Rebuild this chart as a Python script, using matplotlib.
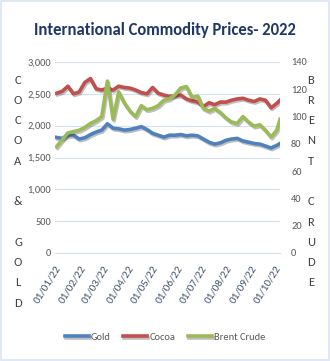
import matplotlib.pyplot as plt
import matplotlib.dates as mdates
import matplotlib.patheffects as pe
import pandas as pd
from matplotlib.ticker import FuncFormatter, MultipleLocator

plt.rcParams['font.family'] = ['Carlito', 'DejaVu Sans']

# weekly closing prices, 2022
weeks = pd.date_range('2022-01-03', periods=40, freq='7D').append(pd.DatetimeIndex(['2022-10-07']))

gold = [1815, 1800, 1845, 1850, 1790, 1810, 1860, 1900, 1930, 2030,
        1960, 1950, 1930, 1940, 1960, 1985, 1940, 1880, 1850, 1820,
        1850, 1850, 1860, 1840, 1850, 1840, 1790, 1740, 1710, 1730,
        1770, 1790, 1800, 1760, 1740, 1720, 1710, 1680, 1650, 1690, 1720]

cocoa = [2510, 2540, 2620, 2500, 2530, 2680, 2740, 2580, 2560, 2590,
         2560, 2620, 2600, 2590, 2560, 2520, 2500, 2600, 2510, 2480,
         2460, 2470, 2480, 2420, 2390, 2370, 2300, 2360, 2330, 2370,
         2370, 2400, 2420, 2430, 2400, 2380, 2420, 2400, 2280, 2350, 2400]

brent = [78, 83, 88, 89, 90, 92, 95, 97, 100, 126,
         98, 118, 110, 104, 100, 108, 105, 106, 108, 112,
         113, 116, 121, 122, 114, 115, 106, 104, 106, 103,
         99, 96, 95, 100, 96, 93, 94, 90, 85, 90, 98]

series_names = ['Gold', 'Cocoa', 'Brent Crude']
colors = ['#4F81BD', '#C0504D', '#9BBB59']
month_ticks = pd.date_range('2022-01-01', '2022-10-01', freq='MS')
left_title = 'COCOA & GOLD'
right_title = 'BRENT CRUDE'

W, H = 330, 361
fig = plt.figure(figsize=(W / 100, H / 100), dpi=100)
fig.patch.set_facecolor('white')
fig.add_artist(plt.Rectangle((0.003, 0.003), 0.994, 0.994, transform=fig.transFigure,
                             fill=False, edgecolor='#DAE3F3', lw=1.2))

ax = fig.add_axes([55 / W, 1 - 253 / H, 225 / W, 191 / H])
ax2 = ax.twinx()

shadow = [pe.SimpleLineShadow(offset=(0.8, -1.2), alpha=0.25), pe.Normal()]
l1, = ax.plot(weeks, gold, color=colors[0], lw=2.6, path_effects=shadow, zorder=3)
l2, = ax.plot(weeks, cocoa, color=colors[1], lw=2.6, path_effects=shadow, zorder=3)
l3, = ax2.plot(weeks, brent, color=colors[2], lw=2.6, path_effects=shadow, zorder=3)

ax.set_ylim(0, 3000)
ax2.set_ylim(0, 140)
ax.yaxis.set_major_locator(MultipleLocator(500))
ax2.yaxis.set_major_locator(MultipleLocator(20))
ax.yaxis.set_major_formatter(FuncFormatter(lambda v, p: f'{int(v):,}'))
ax.set_xlim(weeks[0], weeks[-1])
ax.set_xticks(month_ticks)
ax.xaxis.set_major_formatter(mdates.DateFormatter('%d/%m/%y'))

ax.grid(axis='y', color='#D9E1EC', lw=0.9)
for a in (ax, ax2):
    for s in a.spines.values():
        s.set_visible(False)
    a.tick_params(length=0, labelsize=7.5, labelcolor='#595959')
ax.spines['bottom'].set_visible(True)
ax.spines['bottom'].set_color('#D9E1EC')
ax.tick_params(axis='y', pad=3)
ax.tick_params(axis='x', pad=8)
ax2.tick_params(axis='y', pad=8)
plt.setp(ax.get_xticklabels(), rotation=58, ha='right', rotation_mode='anchor',
         color='#44546A', fontsize=8)

# stacked letters for the two axis titles
for i, ch in enumerate(left_title):
    fig.text(18 / W, 1 - (80 + 20.3 * i) / H, ch, ha='center', va='center',
             fontsize=9, color='#404040')
for i, ch in enumerate(right_title):
    fig.text(311 / W, 1 - (80 + 20.3 * i) / H, ch, ha='center', va='center',
             fontsize=9, color='#404040')

fig.text(0.5, 1 - 30 / H, 'International Commodity Prices- 2022', ha='center', va='center',
         fontsize=12, fontweight='bold', color='#1F3864')

fig.legend([l1, l2, l3], series_names, loc='center', bbox_to_anchor=(0.5, 1 - 337 / H), ncol=3,
           frameon=False, fontsize=7.5, labelcolor='#595959', handlelength=2.3,
           handletextpad=0.2, columnspacing=1.2)

fig.savefig('out.png', dpi=100)
